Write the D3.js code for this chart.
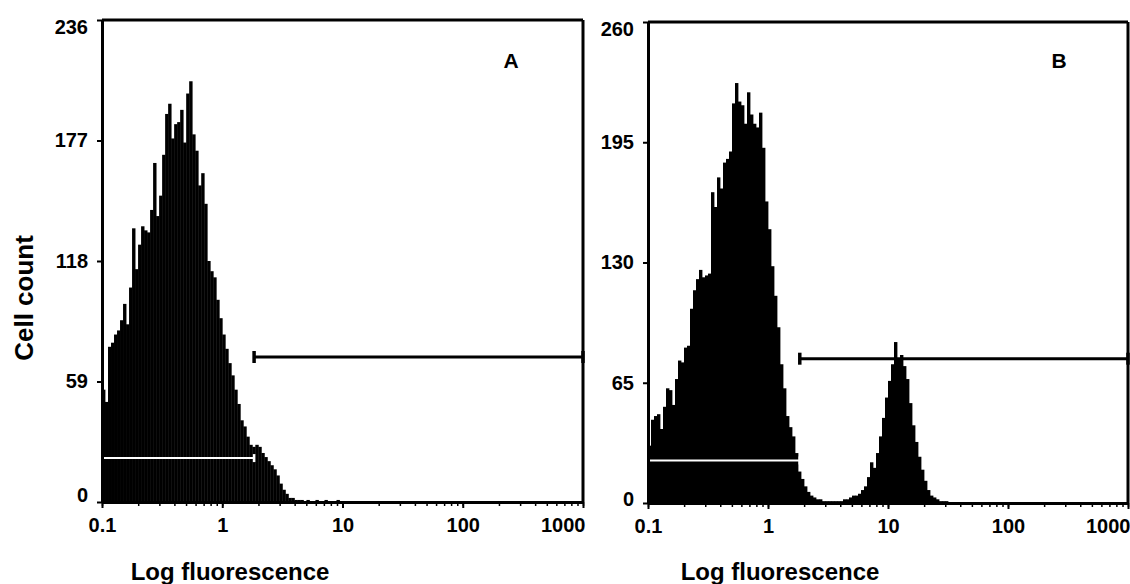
<!DOCTYPE html>
<html>
<head>
<meta charset="utf-8">
<script src="https://cdn.jsdelivr.net/npm/d3@7"></script>
<style>
  body { margin: 0; background: #fff; }
  svg text { font-family: "Liberation Sans", Arial, sans-serif; font-weight: bold; fill: #000; }
</style>
</head>
<body>
<div id="chart"></div>
<script>
// Two flow cytometry histograms (A: control, B: stained) on a 4-decade log axis
const width = 1130, height = 584;
const perDecade = 40; // histogram channels per decade, first channel starts at 0.1

// cell counts per channel
const countsA = [55,49,76,78,82,84,89,97,87,105, 134,114,126,135,133,132,143,166,140,150,
  170,190,195,178,185,186,192,176,200,206, 180,172,155,161,146,118,113,110,99,90,
  82,75,68,62,55,48,40,37,32,28, 27,28,27,24,22,20,18,16,13,9,
  6,4,2,2,1,1,1,0,1,0, 0,1,0,0,1,0,0,0,1,0];
const countsB = [31,45,47,48,40,52,62,61,53,67, 77,76,84,85,105,115,121,126,122,123,
  124,168,160,176,170,184,186,190,216,227, 217,215,205,222,210,205,203,211,192,163,
  148,128,112,95,75,62,47,41,36,27, 17,13,9,6,4,3,2,2,1,1,
  1,1,1,1,1,2,2,3,4,4, 5,7,9,14,22,19,27,36,46,57,
  66,75,87,78,80,74,67,54,42,33, 25,18,12,7,4,3,2,1,1,1, 0];

const yTicksA = [0, 59, 118, 177, 236];
const yTicksB = [0, 65, 130, 195, 260];
const xTicks = [0.1, 1, 10, 100, 1000];
const xTickLabels = ["0.1", "1", "10", "100", "1000"];

// gates: [from, to, count level]
const gateNegA = [0.1, 1.84, 21.5];
const gatePosA = [1.84, 1000, 71];
const gateNegB = [0.1, 1.84, 23];
const gatePosB = [1.84, 1000, 78];

const svg = d3.select("#chart").append("svg").attr("width", width).attr("height", height);

const panels = [
  { counts: countsA, yTicks: yTicksA, neg: gateNegA, pos: gatePosA, letter: "A",
    left: 102, right: 583, top: 20, bottom: 502, titleX: 230, letterX: 511 },
  { counts: countsB, yTicks: yTicksB, neg: gateNegB, pos: gatePosB, letter: "B",
    left: 648, right: 1128, top: 22, bottom: 503, titleX: 780, letterX: 1059 }
];

panels.forEach((p, k) => {
  const g = svg.append("g");
  const x = d3.scaleLog().domain([0.1, 1000]).range([p.left, p.right]);
  const y = d3.scaleLinear().domain([0, p.yTicks[p.yTicks.length - 1]]).range([p.bottom, p.top]);
  const edge = i => x(Math.pow(10, -1 + i / perDecade));

  // histogram
  g.append("g").selectAll("rect")
    .data(p.counts)
    .join("rect")
    .attr("x", (d, i) => edge(i))
    .attr("width", (d, i) => edge(i + 1) - edge(i) + 0.4)
    .attr("y", d => y(d))
    .attr("height", d => y(0) - y(d))
    .attr("fill", "#000");

  // gate markers
  function gate(gt, color, w, cap) {
    const gg = g.append("g").attr("stroke", color);
    gg.append("line").attr("x1", x(gt[0])).attr("x2", x(gt[1]))
      .attr("y1", y(gt[2])).attr("y2", y(gt[2])).attr("stroke-width", w);
    [gt[0], gt[1]].forEach(v => {
      gg.append("line").attr("x1", x(v)).attr("x2", x(v))
        .attr("y1", y(gt[2]) - cap).attr("y2", y(gt[2]) + cap).attr("stroke-width", w + 0.5);
    });
  }
  gate(p.neg, "#fff", 2, 4);
  gate(p.pos, "#000", 3, 6);

  // frame top / right
  g.append("line").attr("x1", p.left).attr("x2", p.right).attr("y1", p.top).attr("y2", p.top)
    .attr("stroke", "#000").attr("stroke-width", 3);
  g.append("line").attr("x1", p.right).attr("x2", p.right).attr("y1", p.top).attr("y2", p.bottom)
    .attr("stroke", "#000").attr("stroke-width", 3);

  // y axis
  const ya = g.append("g").attr("transform", `translate(${p.left},0)`)
    .call(d3.axisLeft(y).tickValues(p.yTicks).tickSize(5).tickSizeOuter(0).tickPadding(9).tickFormat(d3.format("d")));
  ya.select(".domain").attr("stroke-width", 3);
  ya.selectAll(".tick line").attr("stroke-width", 2);
  ya.selectAll("text").attr("font-size", 20).attr("font-family", null);
  ya.selectAll(".tick text").filter(d => d === 0).attr("dy", k === 0 ? "-0.05em" : "0.12em");
  ya.selectAll(".tick text").filter(d => d === p.yTicks[p.yTicks.length - 1]).attr("dy", "0.68em");

  // x axis: minor ticks, then major ticks with labels
  const xm = g.append("g").attr("transform", `translate(0,${p.bottom})`)
    .call(d3.axisBottom(x).tickValues(x.ticks()).tickSize(4).tickSizeOuter(0).tickFormat(""));
  xm.select(".domain").attr("stroke-width", 3);
  xm.selectAll(".tick line").attr("stroke-width", 1.5);

  const xa = g.append("g").attr("transform", `translate(0,${p.bottom})`)
    .call(d3.axisBottom(x).tickValues(xTicks).tickSize(6).tickPadding(10)
      .tickFormat((d, i) => xTickLabels[i]));
  xa.select(".domain").remove();
  xa.selectAll(".tick line").attr("stroke-width", 2);
  xa.selectAll("text").attr("font-size", 20).attr("font-family", null);
  xa.selectAll(".tick text").filter(d => d === 1000).attr("text-anchor", "end").attr("dx", "0.1em");

  // titles
  g.append("text").attr("x", p.titleX).attr("y", 580).attr("text-anchor", "middle")
    .attr("font-size", 24).text("Log fluorescence");
  g.append("text").attr("x", p.letterX).attr("y", 68).attr("text-anchor", "middle")
    .attr("font-size", 21).text(p.letter);
});

svg.append("text")
  .attr("transform", "translate(33,298) rotate(-90)")
  .attr("text-anchor", "middle")
  .attr("font-size", 26)
  .text("Cell count");
</script>
</body>
</html>
